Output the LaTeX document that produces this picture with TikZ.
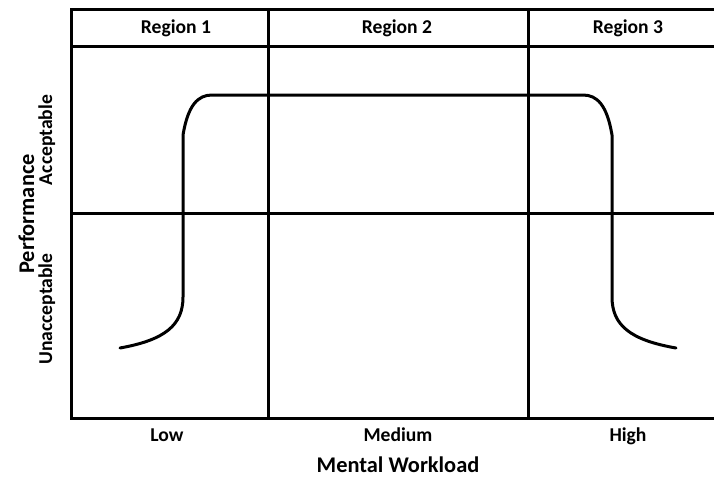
\documentclass[tikz,border=0pt]{standalone}
\usepackage{fontspec}
\setmainfont{Carlito}
\usepackage{tikz}

\begin{document}
\begin{tikzpicture}[x=1pt, y=-1pt,
		frame/.style={line width=3pt},
		curve/.style={line width=3pt, line cap=round},
		lbl/.style={font=\bfseries\fontsize{19.6}{23}\selectfont, inner sep=0pt, anchor=base},
		ttl/.style={font=\bfseries\fontsize{22.4}{26}\selectfont, inner sep=0pt, anchor=base}]
		
		\useasboundingbox (0,0) rectangle (714,477);
		
		% frame and grid
		\draw[frame] (716,9) -- (71,9) -- (71,418) -- (716,418);
		\draw[frame] (71,46) -- (716,46);
		\draw[frame] (71,213) -- (716,213);
		\draw[frame] (268,9) -- (268,418);
		\draw[frame] (528,9) -- (528,418);
		
		% region headers
		\node[lbl] (r1) at (176,33) {Region 1};
		\node[lbl] (r2) at (397,33) {Region 2};
		\node[lbl] (r3) at (628,33) {Region 3};
		
		% workload levels
		\node[lbl] (low) at (167,441) {Low};
		\node[lbl] (med) at (398,441) {Medium};
		\node[lbl] (high) at (628,441) {High};
		\node[ttl] (xlab) at (398,472) {Mental Workload};
		
		% performance levels
		\node[ttl, rotate=90] (ylab) at (34,214) {Performance};
		\node[lbl, rotate=90] (acc) at (52,140) {Acceptable};
		\node[lbl, rotate=90] (unacc) at (52,309) {Unacceptable};
		
		% performance curve
		\draw[curve] (120,348) .. controls (165,340) and (183,325) .. (183,297)
			-- (183,135) .. controls (188,105) and (198,95) .. (212,95)
			-- (583,95) .. controls (597,95) and (607,105) .. (612,135)
			-- (612,297) .. controls (612,325) and (630,340) .. (676,348);
		
	\end{tikzpicture}
\end{document}
